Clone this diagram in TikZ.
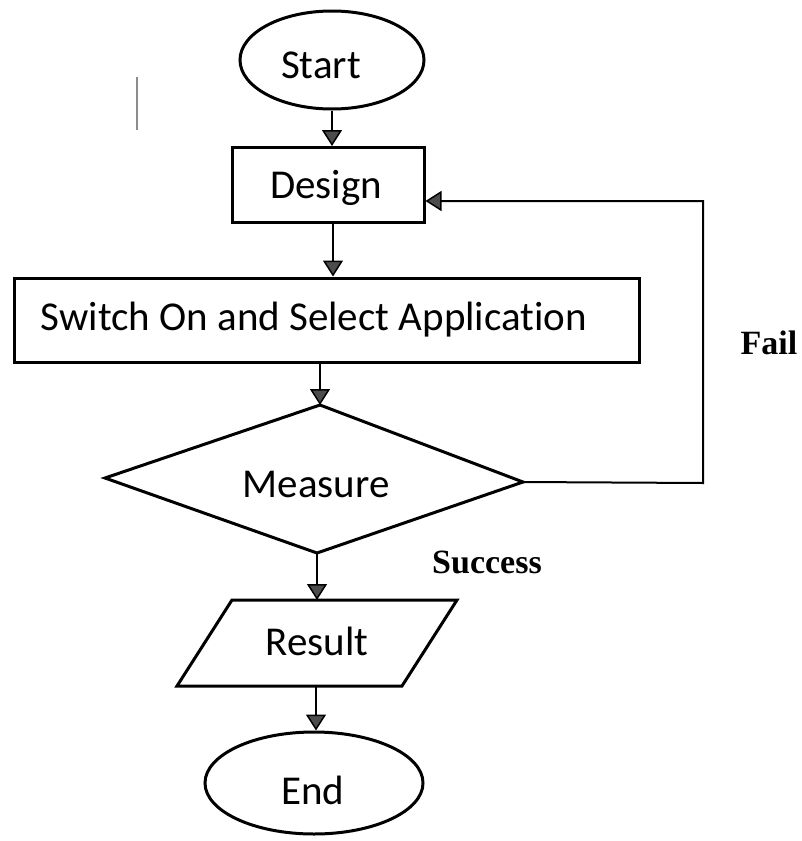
\documentclass[tikz,border=0pt]{standalone}
\usepackage{fontspec}
\setmainfont[Ligatures=NoCommon]{Carlito}
\newfontfamily\labelfont{Liberation Serif}
\usetikzlibrary{shapes.geometric,arrows.meta}

\tikzset{
  txt/.style={font=\fontsize{41}{48}\selectfont, inner sep=0pt},
  blk/.style={draw=black, line width=3pt, inner sep=0pt},
  term/.style={blk, ellipse},
  proc/.style={blk, rectangle},
  outline/.style={draw=black, line width=3pt, line join=miter},
  flow/.style={draw=black, line width=2pt,
    -{Triangle[width=20pt,length=16pt,fill=black!70,line width=1.5pt]}},
  cond/.style={font=\labelfont\bfseries\fontsize{34}{40}\selectfont}
}

\begin{document}
\begin{tikzpicture}[x=1pt,y=-1pt]
  \useasboundingbox (0,0) rectangle (802,841);

  % stray pencil mark at the upper left
  \draw[black!45, line width=1.5pt] (137,77) -- (137,130);

  % terminals and process boxes
  \node[term, minimum width=184pt, minimum height=98pt] (start) at (332,60) {};
  \node[txt] (starttxt) at (321,65) {Start};
  \node[proc, minimum width=192pt, minimum height=75pt] (design) at (328,185) {};
  \node[txt] (designtxt) at (326,188) {Design};
  \node[proc, minimum width=625pt, minimum height=84pt] (switch) at (327,320) {};
  \node[txt] (switchtxt) at (314,320) {Switch On and Select Application};

  % decision diamond
  \coordinate (mleft) at (105,478);
  \coordinate (mtop) at (320,405);
  \coordinate (mright) at (523,482);
  \coordinate (mbot) at (317,553);
  \draw[outline] (mleft) -- (mtop) -- (mright) -- (mbot) -- cycle;
  \node[txt] (measure) at (316,484) {Measure};

  % parallelogram for the output
  \coordinate (rtl) at (232,600);
  \coordinate (rtr) at (457,600);
  \coordinate (rbr) at (402,686);
  \coordinate (rbl) at (177,686);
  \draw[outline] (rtl) -- (rtr) -- (rbr) -- (rbl) -- cycle;
  \node[txt] (result) at (317,641) {Result};
  \coordinate (rtop) at (317,600);
  \coordinate (rbot) at (316,686);

  \node[term, minimum width=218pt, minimum height=102pt] (end) at (314,783) {};
  \node[txt] (endtxt) at (313,790) {End};

  % main flow
  \draw[flow] (start.south) -- (design.north -| start.south);
  \draw[flow] (design.south -| 333,0) -- (switch.north -| 333,0);
  \draw[flow] (switch.south -| mtop) -- (mtop);
  \draw[flow] (mbot) -- (rtop);
  \draw[flow] (rbot) -- (end.north -| rbot);

  % failure loop back to design
  \coordinate (fc1) at (703,483);
  \coordinate (fc2) at (703,201);
  \draw[flow] (mright) -- (fc1) -- (fc2) -- (design.east |- fc2);

  \node[cond] (fail) at (769,343) {Fail};
  \node[cond] (succ) at (487,562) {Success};
\end{tikzpicture}
\end{document}
